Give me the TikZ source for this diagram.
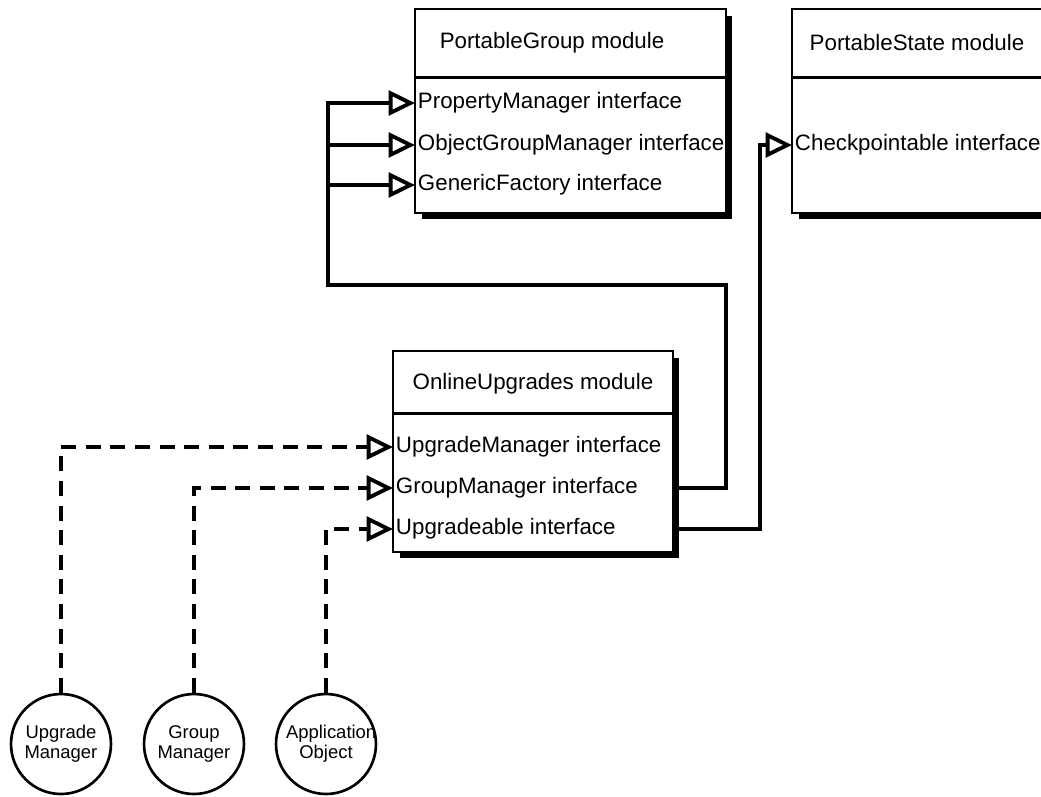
\documentclass[tikz,border=0pt]{standalone}
\usepackage{fontspec}
\setmainfont{Liberation Sans}
\usepackage{tikz}
\usetikzlibrary{arrows.meta, positioning, shadows}

\begin{document}
\begin{tikzpicture}[x=0.02cm, y=-0.02cm,
    module/.style={rectangle, draw, line width=1.5pt, fill=white, inner sep=0pt,
        drop shadow={shadow xshift=0.13cm, shadow yshift=-0.13cm, fill=black, opacity=1}},
    title/.style={font=\fontsize{12.7}{15}\selectfont, inner sep=1pt},
    iface/.style={anchor=west, font=\fontsize{12.7}{15}\selectfont, inner xsep=1.5pt, inner ysep=1pt},
    user/.style={circle, draw, line width=1.5pt, minimum size=2cm, inner sep=0pt,
        align=center, text width=1.6cm, font=\fontsize{10.5}{11.5}\selectfont},
    link/.style={line width=2.2pt, -{Triangle[open, length=15pt, width=14pt]}},
    dlink/.style={link, dash pattern=on 8.5pt off 5.5pt}]
    \useasboundingbox (0,0) rectangle (1041,796);

    % 三个模块框
    \node[module, minimum width=6.22cm, minimum height=4.08cm] (pg) at (570.5,111) {};
    \node[module, minimum width=5.2cm, minimum height=4.08cm] (ps) at (922,111) {};
    \node[module, minimum width=5.6cm, minimum height=4.02cm] (ou) at (533,451.5) {};
    \draw[line width=1.5pt] ([yshift=-1.4cm]pg.north west) -- ([yshift=-1.4cm]pg.north east);
    \draw[line width=1.5pt] ([yshift=-1.4cm]ps.north west) -- ([yshift=-1.4cm]ps.north east);
    \draw[line width=1.5pt] ([yshift=-1.28cm]ou.north west) -- ([yshift=-1.28cm]ou.north east);

    % 模块名
    \node[title] (pgname) at (552,43) {PortableGroup module};
    \node[title] (psname) at (917,43) {PortableState module};
    \node[title] (ouname) at (533,384) {OnlineUpgrades module};

    % 接口
    \foreach \n/\y/\t in {pgprop/103/PropertyManager, pgobj/145/ObjectGroupManager, pgfac/185/GenericFactory} {
        \node[iface] (\n) at (415,\y) {\t{} interface};
    }
    \node[iface] (pscp) at (792,145) {Checkpointable interface};
    \foreach \n/\y/\t in {ouum/447/UpgradeManager, ougm/488/GroupManager, ouup/529/Upgradeable} {
        \node[iface] (\n) at (393,\y) {\t{} interface};
    }

    % 使用者
    \node[user] (um) at (61,744) {Upgrade\\Manager};
    \node[user] (gm) at (194,744) {Group\\Manager};
    \node[user] (ao) at (326,744) {Application\\Object};

    % 实线连接
    \coordinate (busr) at (726,285);
    \coordinate (busl) at (328,285);
    \draw[link] (ou.east |- ougm) -| (busr) -- (busl) |- (pgprop.west);
    \foreach \n in {pgobj, pgfac} {
        \draw[link] (busl |- \n) -- (\n.west);
    }
    \coordinate (cpbend) at (760,145);
    \draw[link] (ou.east |- ouup) -| (cpbend) -- (pscp.west);

    % 虚线连接
    \draw[dlink] (um.north) |- (ouum.west);
    \draw[dlink] (gm.north) |- (ougm.west);
    \draw[dlink] (ao.north) |- (ouup.west);
\end{tikzpicture}
\end{document}
